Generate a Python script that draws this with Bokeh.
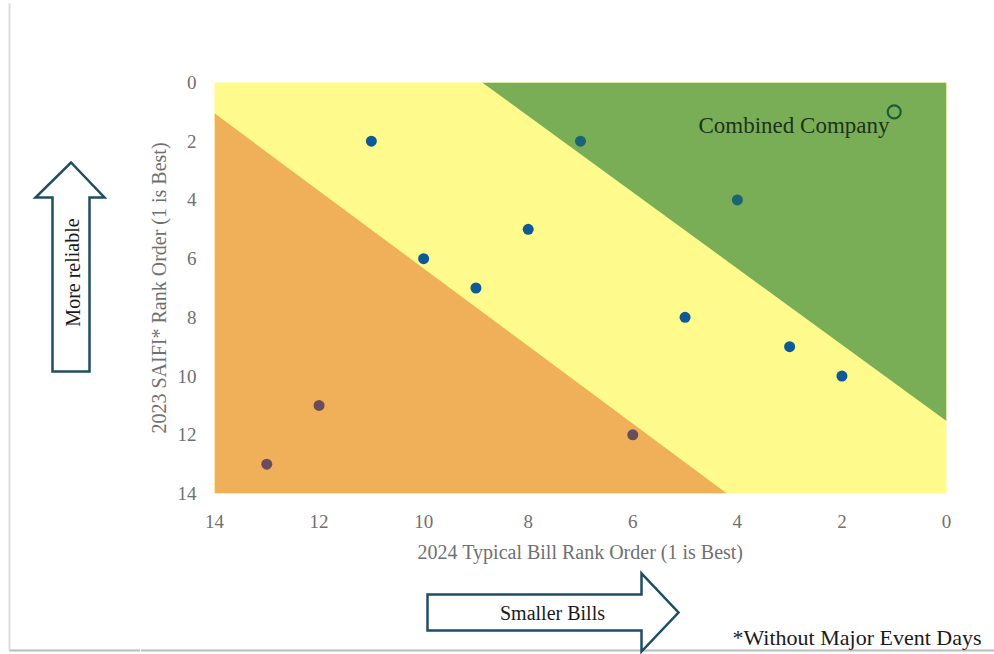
from bokeh.plotting import figure
from bokeh.layouts import row, column
from bokeh.models import Range1d, FixedTicker, Label
from bokeh.core.properties import value
from bokeh.embed import file_html
from bokeh.resources import INLINE

# ---- data ----
bill_rank = [11, 7, 4, 8, 10, 9, 5, 3, 2, 12, 13, 6]
saifi_rank = [2, 2, 4, 5, 6, 7, 8, 9, 10, 11, 13, 12]
combined_bill = [1]
combined_saifi = [1]
combined_label = "Combined Company"
ticks = [0, 2, 4, 6, 8, 10, 12, 14]
# zone boundaries (data units)
green_zone_x = [8.88, 0, 0]
green_zone_y = [0, 0, 11.53]
orange_zone_x = [14, 14, 4.2]
orange_zone_y = [1.05, 14, 14]

FONT = "Liberation Serif"
ARROW = "#1F4E63"
TOTAL_W, TOTAL_H = 994, 654
LEFT_W = 140
MAIN_H = 565

# ---------------- main chart ----------------
p = figure(width=TOTAL_W - LEFT_W, height=MAIN_H, output_backend="svg",
           toolbar_location=None,
           x_range=Range1d(14, 0), y_range=Range1d(14, 0),
           min_border_left=214 - LEFT_W, min_border_right=TOTAL_W - 946,
           min_border_top=82, min_border_bottom=MAIN_H - 495)
p.frame_align = False
p.background_fill_color = "#FFFA8C"
p.border_fill_color = "white"
p.outline_line_color = None
p.xgrid.visible = False
p.ygrid.visible = False

p.patch(green_zone_x, green_zone_y, fill_color="#7AAE56", line_color=None)
p.patch(orange_zone_x, orange_zone_y, fill_color="#F0B05A", line_color=None)

def in_green(x, y):
    return y < green_zone_y[2] * (1 - x / green_zone_x[0])

def in_orange(x, y):
    return y > orange_zone_y[0] + (orange_zone_y[1] - orange_zone_y[0]) * (14 - x) / (14 - orange_zone_x[2])

colors = []
for x, y in zip(bill_rank, saifi_rank):
    if in_green(x, y):
        colors.append("#1B6474")
    elif in_orange(x, y):
        colors.append("#6A4D5A")
    else:
        colors.append("#0E5A96")

p.scatter(bill_rank, saifi_rank, size=11, fill_color=colors, line_color=None)
p.scatter(combined_bill, combined_saifi, size=13, fill_color=None,
          line_color="#1E5B3A", line_width=2.2)
p.add_layout(Label(x=1.09, y=1.45, text=combined_label, text_align="right",
                   text_baseline="middle", text_font=FONT, text_font_size="23px",
                   text_color="#1C331C"))

for ax in (p.xaxis, p.yaxis):
    ax.ticker = FixedTicker(ticks=ticks)
    ax.axis_line_color = None
    ax.major_tick_line_color = None
    ax.minor_tick_line_color = None
    ax.major_tick_in = 0
    ax.major_tick_out = 0
    ax.major_label_text_font = FONT
    ax.major_label_text_font_size = "19px"
    ax.major_label_text_color = "#707070"
    ax.axis_label_text_font = FONT
    ax.axis_label_text_font_size = "20px"
    ax.axis_label_text_font_style = "normal"
    ax.axis_label_text_color = "#707070"

p.xaxis.axis_label = "2024 Typical Bill Rank Order (1 is Best)"
p.yaxis.axis_label = "2023 SAIFI* Rank Order (1 is Best)"
p.xaxis.major_label_standoff = 21
p.xaxis.axis_label_standoff = 10
p.yaxis.major_label_standoff = 18
p.yaxis.axis_label_standoff = 5


def blank_fig(w, h, x0, x1, y_top, y_bot):
    f = figure(width=w, height=h, output_backend="svg", toolbar_location=None,
               x_range=Range1d(x0, x1), y_range=Range1d(y_bot, y_top),
               x_axis_type=None, y_axis_type=None,
               min_border=0, min_border_left=0, min_border_right=0,
               min_border_top=0, min_border_bottom=0)
    f.frame_align = False
    f.outline_line_color = None
    f.xgrid.visible = False
    f.ygrid.visible = False
    f.background_fill_color = "white"
    f.border_fill_color = "white"
    return f

# ---------------- left panel: "More reliable" arrow ----------------
lf = blank_fig(LEFT_W, TOTAL_H, 0, LEFT_W, 0, TOTAL_H)
lf.line([9, 9], [3, 650], line_color="#DDDDDD", line_width=2)
lf.line([9, LEFT_W], [650, 650], line_color="#BBBBBB", line_width=2)
lf.patch([52, 52, 35, 70.5, 104, 89, 89], [371, 197, 197, 162, 197, 197, 371],
         fill_color="white", line_color=ARROW, line_width=2.5, line_join="miter")
lf.text(x=[72], y=[272], text=["More reliable"], angle=1.5708,
        text_align="center", text_baseline="middle",
        text_font=value(FONT), text_font_size="20px", text_color="#1a1a1a")

# ---------------- bottom panel: "Smaller Bills" arrow + footnote ----------------
bf = blank_fig(TOTAL_W - LEFT_W, TOTAL_H - MAIN_H, LEFT_W, TOTAL_W, MAIN_H, TOTAL_H)
bf.line([LEFT_W, TOTAL_W], [650, 650], line_color="#BBBBBB", line_width=2)
bf.patch([427, 641, 641, 678, 641, 641, 427], [594, 594, 573, 612, 651, 630, 630],
         fill_color="white", line_color=ARROW, line_width=2.5, line_join="miter")
bf.text(x=[552], y=[612], text=["Smaller Bills"], text_align="center",
        text_baseline="middle", text_font=value(FONT), text_font_size="20px",
        text_color="#1a1a1a")
bf.text(x=[981], y=[637], text=["*Without Major Event Days"], text_align="right",
        text_baseline="middle", text_font=value(FONT), text_font_size="22px",
        text_color="#1a1a1a")

layout = row(lf, column(p, bf, spacing=0), spacing=0)
open("out.html", "w").write(file_html(layout, INLINE))
